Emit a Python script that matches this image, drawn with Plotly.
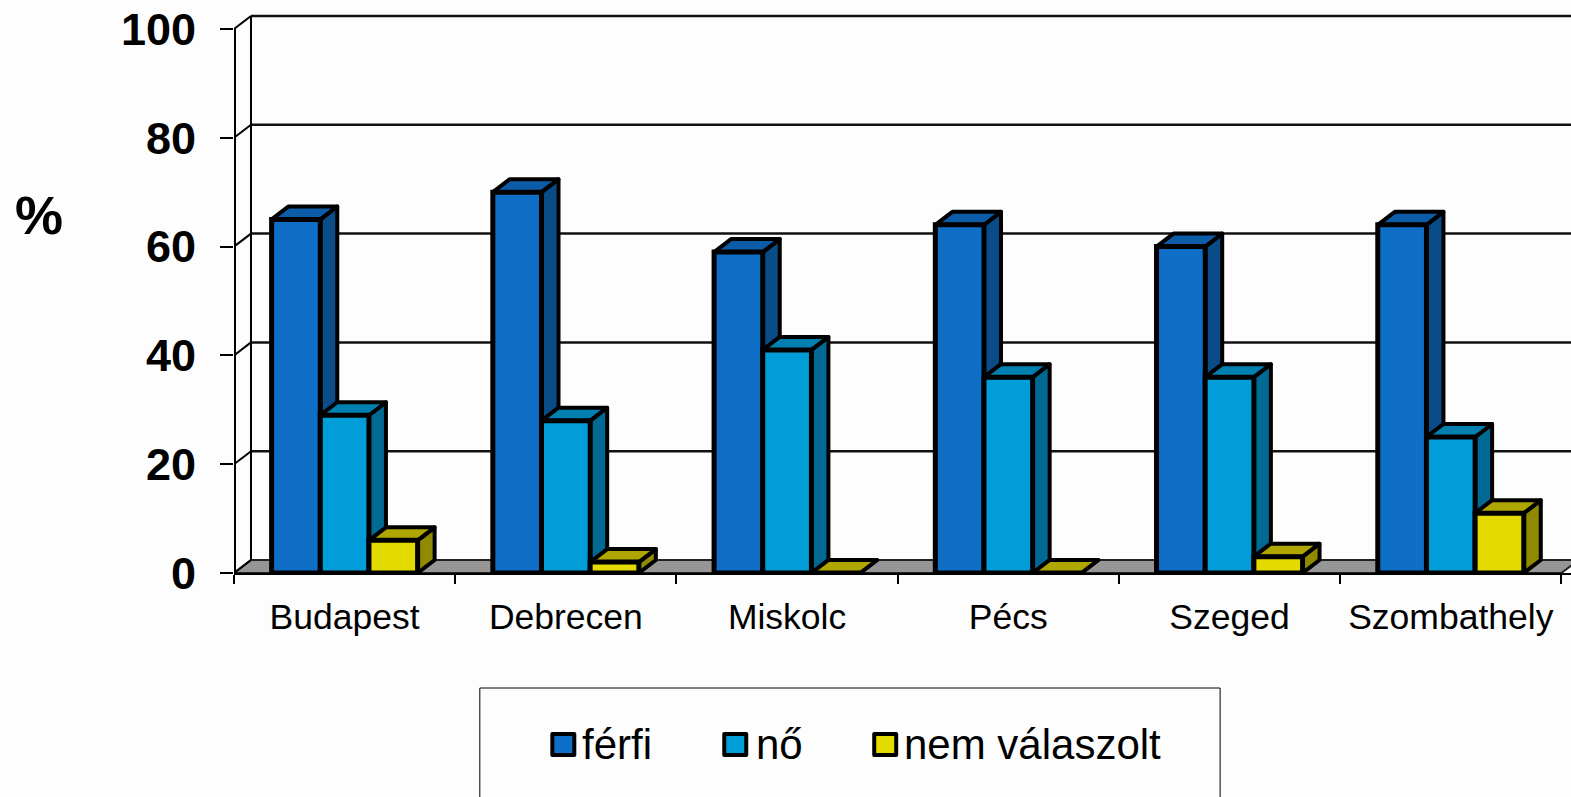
import plotly.graph_objects as go

categories = ["Budapest", "Debrecen", "Miskolc", "Pécs", "Szeged", "Szombathely"]
ferfi = [65, 70, 59, 64, 60, 64]
no = [29, 28, 41, 36, 36, 25]
nem_valaszolt = [6, 2, 0, 0, 3, 11]
series_names = ["férfi", "nő", "nem válaszolt"]
y_ticks = [0, 20, 40, 60, 80, 100]

front = ["#0F6FC6", "#009DD9", "#E3DA00"]
top_c = ["#0C5CA8", "#0080B0", "#B0A600"]
side_c = ["#0A4C88", "#006A94", "#908A00"]
FLOOR = "#969696"
BG = "#FDFDFD"

W, H = 1571, 797
L, T, B = 233.6, 10, 224
plot_w, plot_h = W - L, H - T - B
PX_X, PX_Y = 221.3, 5.44
XMAX = plot_w / PX_X
YMAX = plot_h / PX_Y
DX, DY = 17 / PX_X, 13 / PX_Y
BARGAP = 0.34
BW = (1 - BARGAP) / 3


def poly(pts, fill, lw=3, color="black"):
    path = "M" + " L".join(f"{x},{y}" for x, y in pts) + " Z"
    return dict(type="path", path=path, fillcolor=fill, layer="below",
                line=dict(color=color, width=lw), xref="x", yref="y")


shapes = []
# floor
shapes.append(poly([(0, 0), (6, 0), (6 + DX, DY), (DX, DY)], FLOOR, lw=2, color="#222222"))
# back wall / left wall lines
for v in y_ticks:
    shapes.append(dict(type="line", layer="below", x0=0, y0=v, x1=DX, y1=v + DY,
                       xref="x", yref="y", line=dict(color="black", width=2)))
    if v > 0:
        shapes.append(dict(type="line", layer="below", x0=DX, y0=v + DY, x1=XMAX + 1, y1=v + DY,
                           xref="x", yref="y", line=dict(color="#111111", width=2.5)))
shapes.append(dict(type="line", layer="below", x0=DX, y0=DY, x1=DX, y1=100 + DY,
                   xref="x", yref="y", line=dict(color="black", width=2)))
# front value-axis line, stopping at the 100 tick (half of it is clipped by the plot edge)
shapes.append(dict(type="line", layer="below", x0=0, y0=0, x1=0, y1=100,
                   xref="x", yref="y", line=dict(color="black", width=4)))

# depth faces of each bar, computed from the values
values = [ferfi, no, nem_valaszolt]
for i in range(len(categories)):
    for s, vals in enumerate(values):
        v = vals[i]
        x0 = i + BARGAP / 2 + s * BW
        x1 = x0 + BW
        shapes.append(poly([(x1, 0), (x1 + DX, DY), (x1 + DX, v + DY), (x1, v)], side_c[s], lw=4))
        shapes.append(poly([(x0, v), (x0 + DX, v + DY), (x1 + DX, v + DY), (x1, v)], top_c[s], lw=4))

fig = go.Figure()
xc = [i + 0.5 for i in range(len(categories))]
for s, vals in enumerate(values):
    fig.add_trace(go.Bar(name=series_names[s], x=xc, y=vals, width=BW,
                         marker=dict(color=front[s], line=dict(color="black", width=5)),
                         cliponaxis=False, showlegend=False))


def fx(p):
    return (p - L) / plot_w


def fy(p):
    return (H - B - p) / plot_h


annotations = [dict(text="<b>%</b>", x=fx(39), y=fy(215), xref="paper", yref="paper",
                    xanchor="center", yanchor="middle",
                    showarrow=False, font=dict(size=54, color="black"))]

# legend box
shapes.append(dict(type="rect", xref="paper", yref="paper", layer="above",
                   x0=fx(479.5), x1=fx(1220), y0=fy(688), y1=fy(805),
                   fillcolor="rgba(0,0,0,0)", line=dict(color="black", width=1)))
legend_swatch_x = [552, 724, 874]
legend_text_x = [580, 754, 902]
for s in range(3):
    shapes.append(dict(type="rect", xref="paper", yref="paper", layer="above",
                       x0=fx(legend_swatch_x[s]), x1=fx(legend_swatch_x[s] + 22),
                       y0=fy(734), y1=fy(755), fillcolor=front[s],
                       line=dict(color="black", width=4)))
    annotations.append(dict(text=series_names[s], x=fx(legend_text_x[s]), y=fy(744),
                            xref="paper", yref="paper", xanchor="left", yanchor="middle",
                            showarrow=False, font=dict(size=42, color="black")))

fig.update_layout(
    width=W, height=H, autosize=False,
    margin=dict(l=L, r=0, t=T, b=B, pad=0),
    paper_bgcolor=BG, plot_bgcolor="rgba(0,0,0,0)",
    barmode="group", bargap=BARGAP, bargroupgap=0,
    font=dict(family="Liberation Sans, Arial, sans-serif", color="black"),
    showlegend=False, shapes=shapes, annotations=annotations,
    xaxis=dict(range=[0, XMAX], tickmode="array", tickvals=xc, ticktext=categories,
               ticks="", showgrid=False, zeroline=False, showline=True,
               linecolor="black", linewidth=2, tickfont=dict(size=35.5),
               ticklabelstandoff=11,
               minor=dict(tickmode="array", tickvals=list(range(7)), ticks="outside",
                          ticklen=9, tickwidth=1.5, tickcolor="black", showgrid=False)),
    yaxis=dict(range=[0, YMAX], tickmode="array", tickvals=y_ticks, ticks="outside",
               ticklen=13, tickwidth=1.5, tickcolor="black", showgrid=False, zeroline=False,
               showline=False,
               ticklabelstandoff=15,
               tickfont=dict(size=45, weight="bold")),
)
post = """
document.body.style.margin = '0';
document.body.style.background = '%s';
document.querySelectorAll('.shapelayer path').forEach(function (p) { p.style.strokeLinejoin = 'round'; });
""" % BG
fig.write_html("out.html", post_script=post, config={"displayModeBar": False})
